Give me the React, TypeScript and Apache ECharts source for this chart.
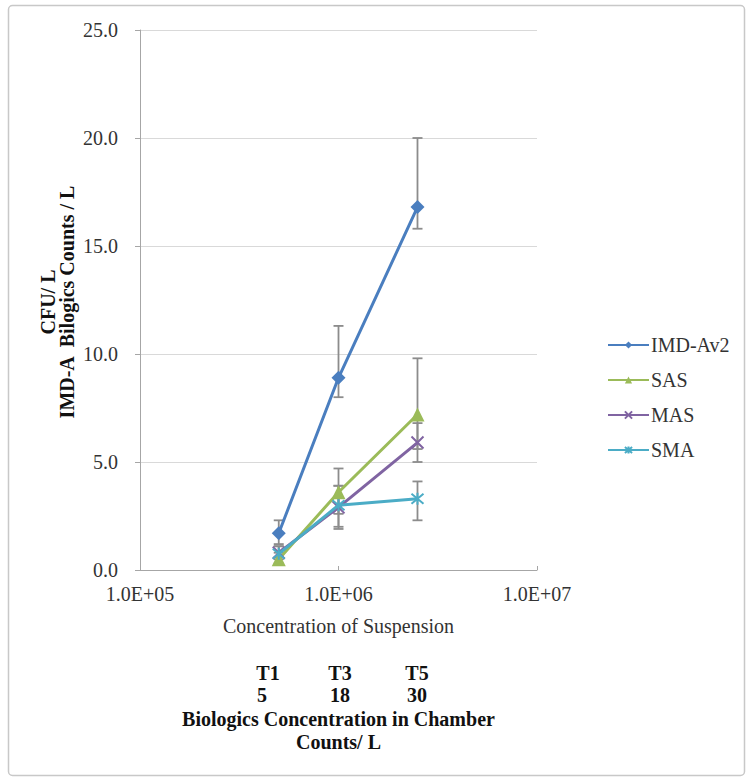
import React, { useEffect, useRef } from "react";
import * as echarts from "echarts";

const xValues = [5e5, 1e6, 2.5e6];
const seriesNames = ["IMD-Av2", "SAS", "MAS", "SMA"];
const imdValues = [1.7, 8.9, 16.8];
const sasValues = [0.5, 3.6, 7.2];
const masValues = [0.8, 2.9, 5.9];
const smaValues = [0.75, 3.0, 3.3];
const imdLow = [1.2, 8.0, 15.8];
const imdHigh = [2.3, 11.3, 20.0];
const sasLow = [0.3, 2.6, 5.6];
const sasHigh = [0.8, 4.7, 9.8];
const masLow = [0.6, 1.9, 5.0];
const masHigh = [1.1, 3.9, 6.8];
const smaLow = [0.5, 2.0, 2.3];
const smaHigh = [1.1, 3.9, 4.1];
const chamberLabels = ["T1", "T3", "T5"];
const chamberCounts = ["5", "18", "30"];
const yTicks = [0, 5, 10, 15, 20, 25];

const colors = ["#4A7EBF", "#9BBB59", "#8064A2", "#4BACC6"];
const symbols = [
  "diamond",
  "triangle",
  "path://M0,0L10,10M0,10L10,0",
  "path://M0,0L10,10M0,10L10,0M5,-1L5,11",
];
const values = [imdValues, sasValues, masValues, smaValues];
const lows = [imdLow, sasLow, masLow, smaLow];
const highs = [imdHigh, sasHigh, masHigh, smaHigh];

const FONT = "'Liberation Serif', 'Times New Roman', serif";
const FS = 20;

export default function App() {
  const ref = useRef<HTMLDivElement>(null);
  useEffect(() => {
    if (!ref.current) return;
    const chart = echarts.init(ref.current, null, { renderer: "svg" });

    const lineSeries = seriesNames.map((name, i) => ({
      name,
      type: "line",
      data: xValues.map((x, j) => [x, values[i][j]]),
      symbol: symbols[i],
      symbolSize: i === 0 ? 14 : i === 1 ? 14 : 12,
      lineStyle: { color: colors[i], width: 3 },
      itemStyle: {
        color: colors[i],
        borderColor: colors[i],
        borderWidth: i >= 2 ? 2 : 0,
      },
      z: 3 + i,
    }));

    const errSeries = seriesNames.map((name, i) => ({
      type: "custom",
      name: name + "-err",
      data: xValues.map((x, j) => [x, lows[i][j], highs[i][j]]),
      encode: { x: 0, y: [1, 2] },
      z: 2,
      silent: true,
      renderItem: (params: any, api: any) => {
        const x = api.value(0);
        const lo = api.coord([x, api.value(1)]);
        const hi = api.coord([x, api.value(2)]);
        const w = 5;
        const st = { stroke: "#8c8c8c", lineWidth: 1.8 };
        return {
          type: "group",
          children: [
            { type: "line", shape: { x1: lo[0], y1: lo[1], x2: hi[0], y2: hi[1] }, style: st },
            { type: "line", shape: { x1: lo[0] - w, y1: lo[1], x2: lo[0] + w, y2: lo[1] }, style: st },
            { type: "line", shape: { x1: hi[0] - w, y1: hi[1], x2: hi[0] + w, y2: hi[1] }, style: st },
          ],
        };
      },
    }));

    chart.setOption({
      animation: false,
      backgroundColor: "#ffffff",
      grid: { left: 140, right: 216, top: 30, bottom: 211 },
      legend: {
        orient: "vertical",
        left: 602,
        top: 330,
        itemWidth: 41,
        itemHeight: 9,
        itemGap: 15,
        data: seriesNames,
        textStyle: { fontFamily: FONT, fontSize: FS, color: "#333", padding: [0, 0, 0, -3] },
      },
      xAxis: {
        type: "log",
        logBase: 10,
        min: 1e5,
        max: 1e7,
        name: "Concentration of Suspension",
        nameLocation: "middle",
        nameGap: 46,
        nameTextStyle: { fontFamily: FONT, fontSize: FS, color: "#333" },
        axisLine: { lineStyle: { color: "#a6a6a6" } },
        axisTick: { show: true, inside: true, length: 4, lineStyle: { color: "#a6a6a6" } },
        minorTick: { show: false },
        splitLine: { show: false },
        axisLabel: {
          fontFamily: FONT,
          fontSize: FS,
          color: "#333",
          margin: 14,
          formatter: (v: number) => {
            const e = Math.round(Math.log10(v));
            return "1.0E+" + String(e).padStart(2, "0");
          },
        },
      },
      yAxis: {
        type: "value",
        min: 0,
        max: 25,
        interval: 5,
        axisLine: { show: true, lineStyle: { color: "#a6a6a6" } },
        axisTick: { show: true, length: 5, lineStyle: { color: "#a6a6a6" } },
        splitLine: { show: true, lineStyle: { color: "#d9d9d9", width: 1 } },
        axisLabel: {
          fontFamily: FONT,
          fontSize: FS,
          color: "#333",
          margin: 22,
          formatter: (v: number) => (yTicks.includes(v) ? v.toFixed(1) : ""),
        },
      },
      series: [...errSeries, ...lineSeries],
    });

    const mid = chart.convertToPixel({ xAxisIndex: 0 }, 1e6) as number;
    const boldText = { fontFamily: FONT, fontSize: FS, fontWeight: "bold", fill: "#111" };
    const labelX = [268, 340, 417];
    const countX = [262, 340, 417];
    const graphics: any[] = [
      {
        type: "rect",
        shape: { x: 8.5, y: 5.5, width: 736, height: 770, r: 4 },
        style: { fill: "none", stroke: "#c8c8c8", lineWidth: 1.5 },
        silent: true,
      },
      {
        type: "text",
        x: 57,
        y: 302,
        rotation: Math.PI / 2,
        style: {
          text: "CFU/ L\nIMD-A  Bilogics Counts / L",
          textAlign: "center",
          textVerticalAlign: "middle",
          lineHeight: 19,
          ...boldText,
        },
      },
      {
        type: "text",
        x: mid,
        y: 719,
        style: { text: "Biologics Concentration in Chamber", textAlign: "center", textVerticalAlign: "middle", ...boldText },
      },
      {
        type: "text",
        x: mid,
        y: 742,
        style: { text: "Counts/ L", textAlign: "center", textVerticalAlign: "middle", ...boldText },
      },
    ];
    chamberLabels.forEach((t, j) => {
      graphics.push({
        type: "text",
        x: labelX[j],
        y: 673,
        style: { text: t, textAlign: "center", textVerticalAlign: "middle", ...boldText },
      });
      graphics.push({
        type: "text",
        x: countX[j],
        y: 695,
        style: { text: chamberCounts[j], textAlign: "center", textVerticalAlign: "middle", ...boldText },
      });
    });
    chart.setOption({ graphic: graphics });

    return () => chart.dispose();
  }, []);

  return (
    <div style={{ position: "absolute", left: 0, top: 0, width: 753, height: 781 }}>
      <div ref={ref} style={{ width: 753, height: 781 }} />
    </div>
  );
}
